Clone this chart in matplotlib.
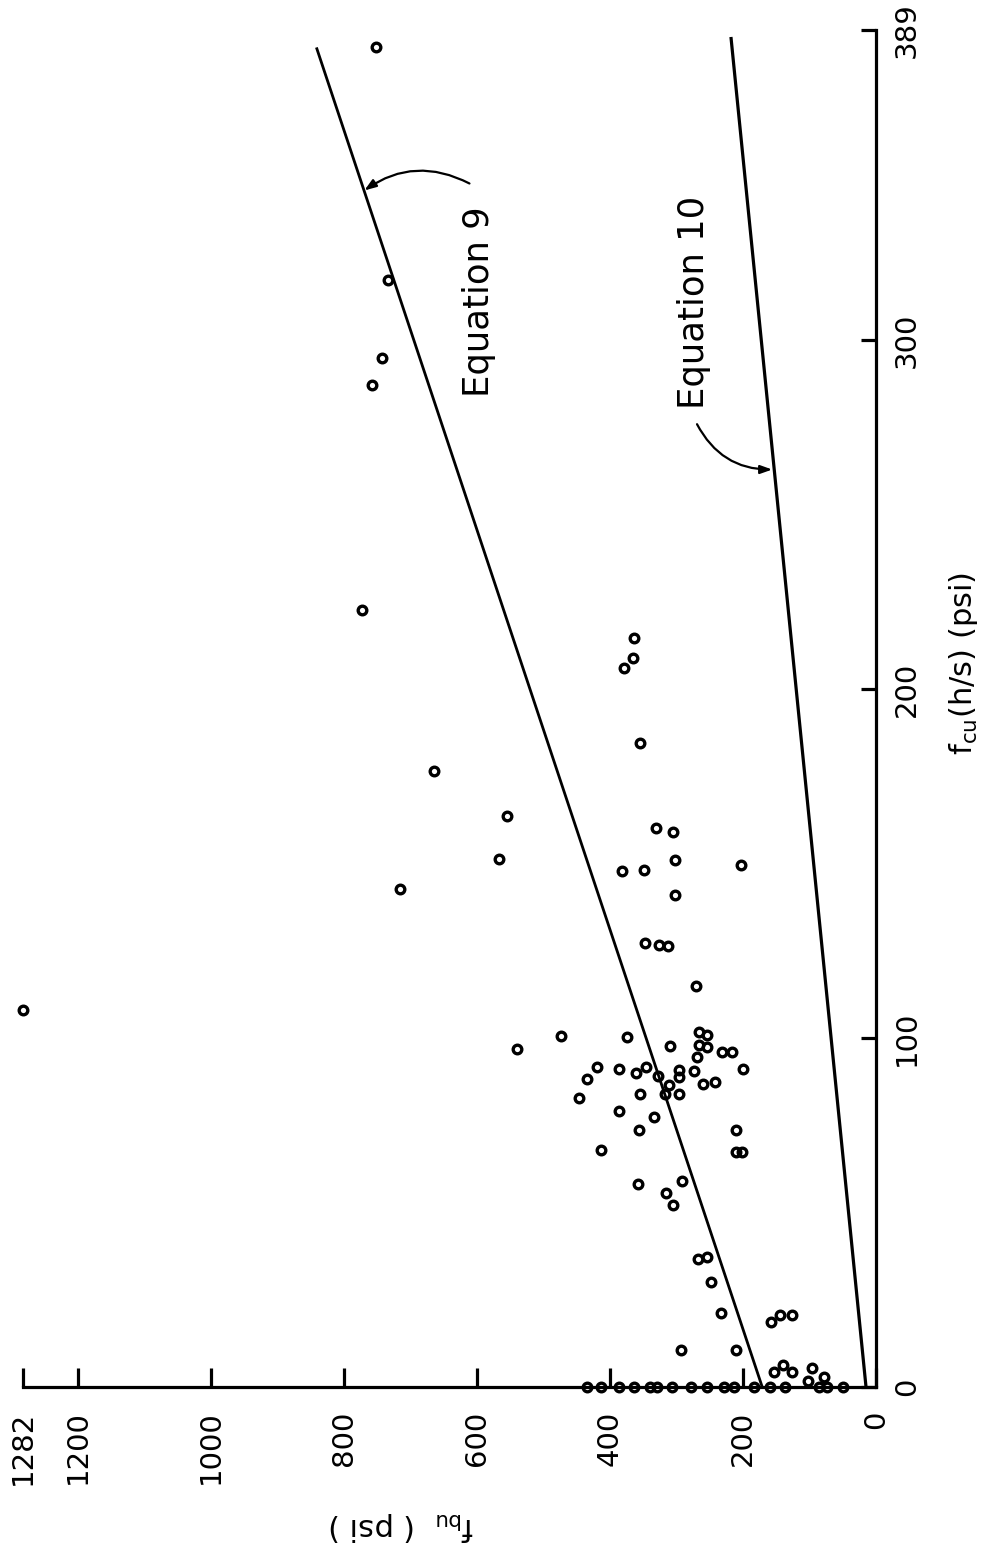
import matplotlib
matplotlib.use("Agg")
import matplotlib.pyplot as plt

plt.rcParams['font.family'] = ['DejaVu Sans']
plt.rcParams['mathtext.fontset'] = 'dejavusans'

# ---- data (f_bu in psi, f_cu(h/s) in psi) ----
fbu_pts = [751, 734, 742, 758, 773, 363, 365, 378, 354, 665, 554, 566, 716,
           330, 305, 302, 381, 348, 203, 302, 347, 326, 312, 270, 1282,
           473, 539, 374, 309, 266, 254, 266, 254, 231, 216, 200, 269,
           419, 386, 360, 345, 327, 296, 296, 273, 434, 311, 260, 242,
           447, 354, 317, 296, 387, 333, 356, 210, 414, 210, 201,
           357, 291, 315, 305, 267, 254, 248, 233, 293, 210, 158, 144, 126,
           153, 140, 126, 96, 102, 78,
           435, 413, 387, 363, 339, 329, 306, 278, 254, 228, 213, 183, 159,
           137, 86, 74, 50]
fcu_pts = [384.2, 317.4, 295.0, 287.3, 222.8, 214.7, 209.0, 206.1, 184.6,
           176.6, 163.7, 151.4, 142.8,
           160.3, 159.1, 151.1, 147.9, 148.2, 149.7, 141.1, 127.3, 126.7,
           126.4, 115.0, 108.0,
           100.6, 96.9, 100.3, 97.8, 101.8, 100.9, 98.1, 97.5, 96.0, 96.0,
           91.2, 94.6,
           91.7, 91.2, 90.0, 91.7, 89.2, 90.9, 88.9, 90.6, 88.3, 86.6, 86.9,
           87.4,
           82.9, 84.0, 84.0, 84.0, 79.1, 77.4, 73.7, 73.7, 67.9, 67.4, 67.4,
           58.2, 59.1, 55.6, 52.2, 36.7, 37.3, 30.1, 21.2, 10.6, 10.6, 18.6,
           20.6, 20.6,
           4.3, 6.3, 4.3, 5.4, 1.7, 2.9,
           0, 0, 0, 0, 0, 0, 0, 0, 0, 0, 0, 0, 0,
           0, 0, 0, 0]

eq9_fcu = [0, 384]
eq9_fbu = [171, 841]
eq10_fcu = [0, 387]
eq10_fbu = [15, 218]

fbu_ticks = [0, 200, 400, 600, 800, 1000, 1200, 1282]
fbu_ticklabels = ['0', '200', '400', '600', '800', '1000', '1200', '1282']
fcu_ticks = [0, 100, 200, 300, 389]
fcu_ticklabels = ['0', '100', '200', '300', '389']

W, H = 986, 1557
fig = plt.figure(figsize=(W / 100, H / 100), dpi=100)
ax = fig.add_axes([23 / W, 1 - 1387 / H, (876 - 23) / W, (1387 - 30) / H])
ax.set_xlim(1282, 0)
ax.set_ylim(0, 389)

for s in ['top', 'left']:
    ax.spines[s].set_visible(False)
for s in ['bottom', 'right']:
    ax.spines[s].set_linewidth(2.3)

ax.xaxis.set_ticks_position('bottom')
ax.yaxis.set_ticks_position('right')
ax.set_xticks(fbu_ticks, fbu_ticklabels)
ax.set_yticks(fcu_ticks, fcu_ticklabels, va='center')
ax.tick_params(axis='x', direction='in', length=14, width=2.3, pad=17,
               labelsize=21, labelrotation=90)
ax.tick_params(axis='y', direction='in', length=11, width=2.3, pad=12,
               labelsize=21, labelrotation=90)

# equation lines
ax.plot(eq9_fbu, eq9_fcu, color='k', lw=2.0, solid_capstyle='butt')
ax.plot(eq10_fbu, eq10_fcu, color='k', lw=2.3, solid_capstyle='butt')

# data points
ax.plot(fbu_pts, fcu_pts, 'o', mfc='none', mec='k', ms=6.2, mew=2.4,
        clip_on=False, zorder=5)

# equation labels with arrows
ax.text(596, 311, 'Equation 9', rotation=90, ha='center', va='center',
        fontsize=25.5)
ax.text(274, 311, 'Equation 10', rotation=90, ha='center', va='center',
        fontsize=25.5)
ax.annotate('', xy=(769, 343), xytext=(611, 345),
            arrowprops=dict(arrowstyle='-|>,head_length=0.7,head_width=0.25',
                            connectionstyle='arc3,rad=0.3', lw=1.6, color='k',
                            shrinkA=0, shrinkB=0))
ax.annotate('', xy=(156, 263), xytext=(269, 276),
            arrowprops=dict(arrowstyle='-|>,head_length=0.7,head_width=0.25',
                            connectionstyle='arc3,rad=0.3', lw=1.6, color='k',
                            shrinkA=0, shrinkB=0))

# axis titles
fig.text(402 / W, 1 - 1527 / H, r'$\mathrm{f}_{\mathrm{bu}}$  ( psi )',
         rotation=180, ha='center', va='center', fontsize=22)
fig.text(963 / W, 1 - 663 / H, r'$\mathrm{f}_{\mathrm{cu}}$(h/s) (psi)',
         rotation=90, ha='center', va='center', fontsize=22)

fig.savefig('out.png', dpi=100, facecolor='white')
